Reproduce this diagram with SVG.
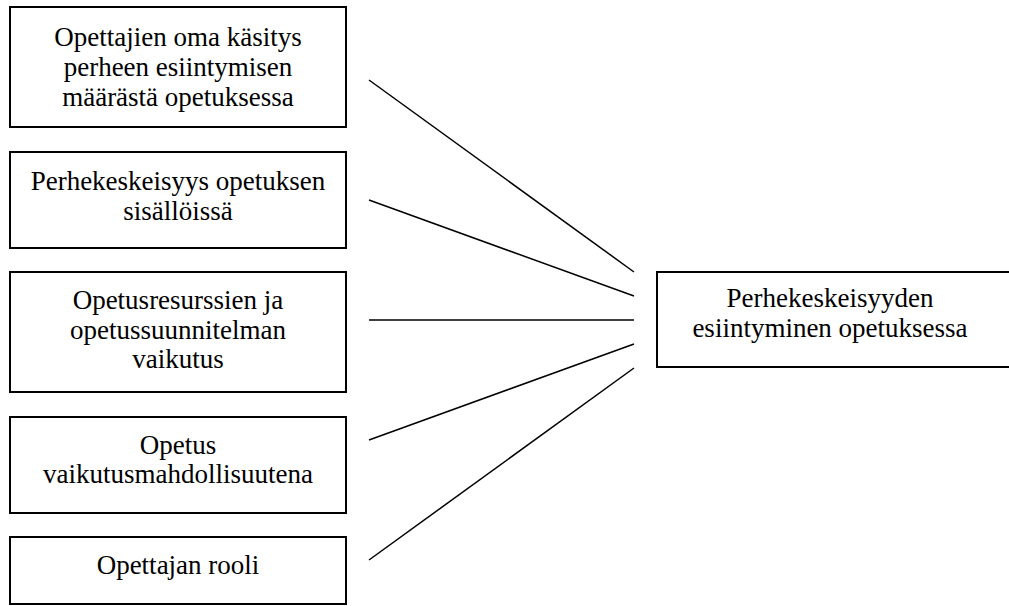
<svg xmlns="http://www.w3.org/2000/svg" width="1009" height="606" viewBox="0 0 1009 606">
<style>
.box{fill:#fff;stroke:#000;stroke-width:2}
.t{font-family:"Liberation Serif","Times New Roman",serif;font-size:27px;fill:#000;text-anchor:middle}
.c{stroke:#000;stroke-width:1.5;fill:none}
</style>
<rect width="1009" height="606" fill="#fff"/>
<g id="n1"><rect class="box" x="10" y="7" width="336" height="120"/>
<text class="t" x="178" y="46">Opettajien oma käsitys</text>
<text class="t" x="178" y="76">perheen esiintymisen</text>
<text class="t" x="178" y="106">määrästä opetuksessa</text></g>
<g id="n2"><rect class="box" x="10" y="152" width="336" height="96"/>
<text class="t" x="178" y="190">Perhekeskeisyys opetuksen</text>
<text class="t" x="178" y="220">sisällöissä</text></g>
<g id="n3"><rect class="box" x="10" y="272" width="336" height="120"/>
<text class="t" x="178" y="309">Opetusresurssien ja</text>
<text class="t" x="178" y="339">opetussuunnitelman</text>
<text class="t" x="178" y="368">vaikutus</text></g>
<g id="n4"><rect class="box" x="10" y="417" width="336" height="96"/>
<text class="t" x="178" y="454">Opetus</text>
<text class="t" x="178" y="483">vaikutusmahdollisuutena</text></g>
<g id="n5"><rect class="box" x="10" y="537" width="336" height="67"/>
<text class="t" x="178" y="574">Opettajan rooli</text></g>
<g id="n6"><rect class="box" x="657" y="272" width="360" height="95"/>
<text class="t" x="830" y="307">Perhekeskeisyyden</text>
<text class="t" x="830" y="337">esiintyminen opetuksessa</text></g>
<g id="connectors">
<line class="c" x1="369" y1="80" x2="634" y2="272"/>
<line class="c" x1="369" y1="200" x2="634" y2="296"/>
<line class="c" x1="369" y1="320" x2="634" y2="320"/>
<line class="c" x1="369" y1="440" x2="634" y2="344"/>
<line class="c" x1="369" y1="560" x2="634" y2="368"/>
</g>
</svg>
